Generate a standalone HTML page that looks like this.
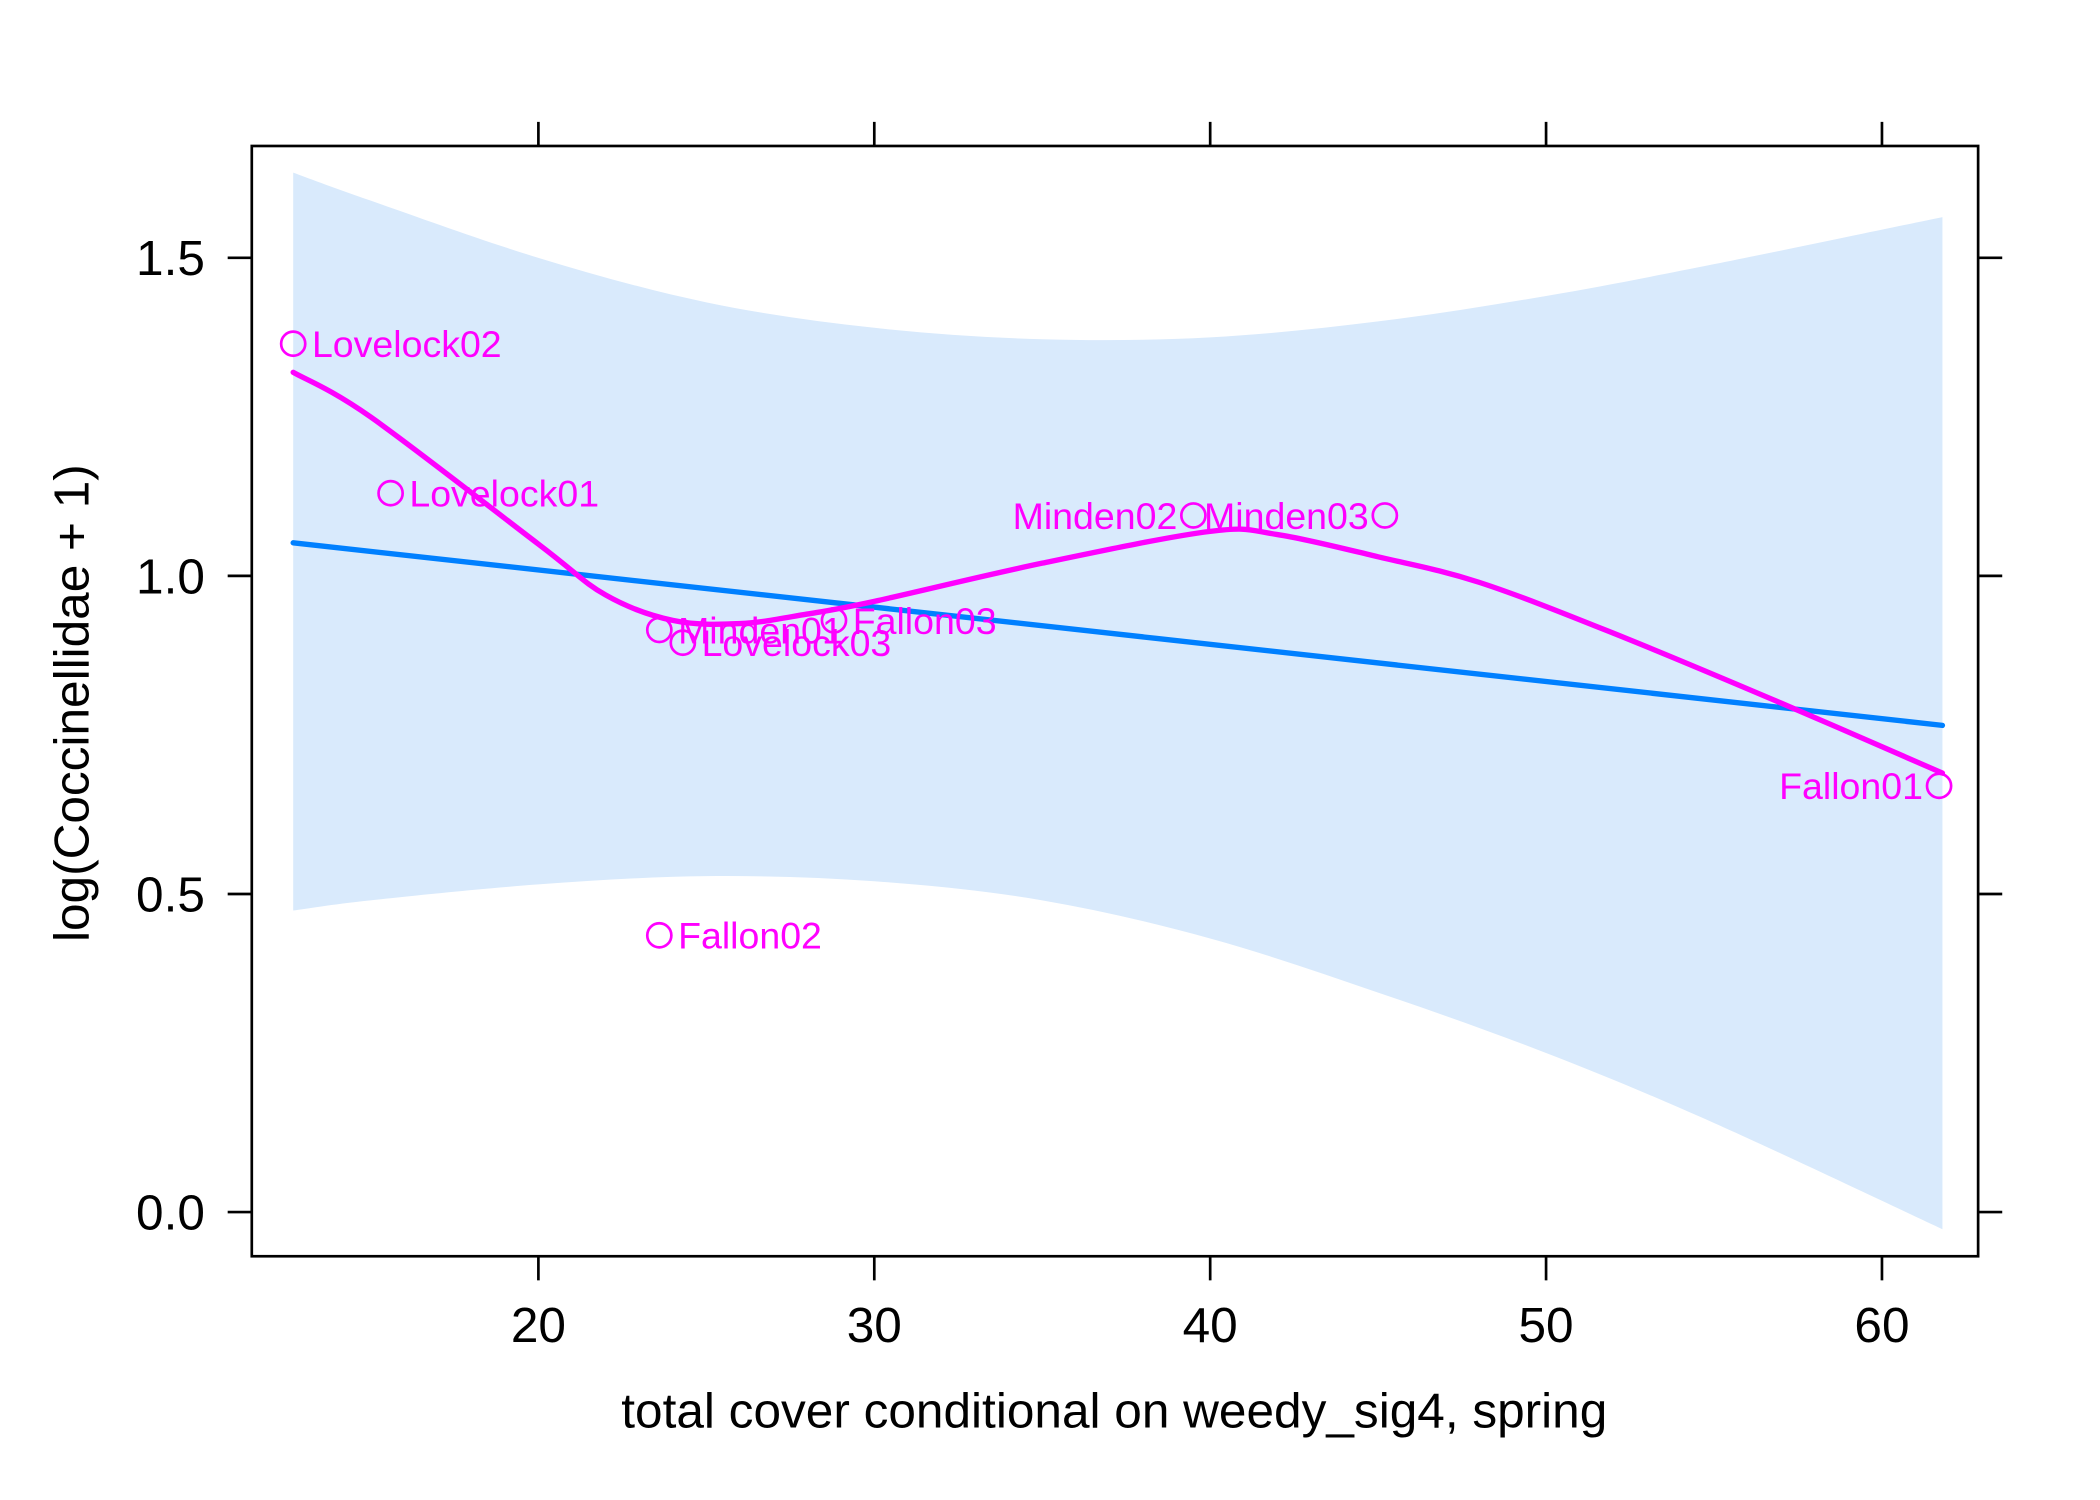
<!DOCTYPE html>
<html><head><meta charset="utf-8"><style>html,body{margin:0;padding:0;background:#fff}svg{display:block}text{font-family:"Liberation Sans",sans-serif}</style></head>
<body>
<svg id="chart" width="2100" height="1500" viewBox="0 0 1568 1120" preserveAspectRatio="none" xmlns="http://www.w3.org/2000/svg">
<g id="g"></g>
</svg>
<script>
const xTicks=[20,30,40,50,60];
const yTicks=[0.0,0.5,1.0,1.5];
const yTickLabels=["0.0","0.5","1.0","1.5"];
const bandX=[12.7,15,20,25,30,35,40,45,50,55,61.8];
const bandUpper=[1.634,1.59,1.50,1.43,1.39,1.372,1.375,1.40,1.44,1.49,1.564];
const bandLower=[0.474,0.49,0.515,0.528,0.52,0.49,0.43,0.345,0.25,0.14,-0.027];
const fitX=[12.7,61.8];
const fitY=[1.052,0.765];
const smoothX=[12.7,15,20,22,24,26,28,30,35,40,42,45,48,52,57,61.8];
const smoothY=[1.32,1.25,1.05,0.97,0.93,0.925,0.94,0.96,1.02,1.07,1.065,1.03,0.99,0.91,0.80,0.69];
const ptNames=["Lovelock02","Lovelock01","Minden01","Lovelock03","Fallon03","Minden02","Minden03","Fallon01","Fallon02"];
const ptX=[12.7,15.6,23.6,24.3,28.8,39.5,45.2,61.7,23.6];
const ptY=[1.365,1.13,0.915,0.895,0.93,1.095,1.095,0.67,0.435];
const ptLabelLeft=[false,false,false,false,false,true,true,true,false];

const X=v=>402+(v-20)*25.08;
const Y=v=>905-v*475;
const NS="http://www.w3.org/2000/svg";
const g=document.getElementById('g');
function mk(t,a){const e=document.createElementNS(NS,t);for(const k in a)e.setAttribute(k,a[k]);g.appendChild(e);return e;}
function spline(pts,move){
  let d=(move?"M":"L")+pts[0][0]+","+pts[0][1];
  for(let i=0;i<pts.length-1;i++){
    const p0=pts[Math.max(0,i-1)],p1=pts[i],p2=pts[i+1],p3=pts[Math.min(pts.length-1,i+2)];
    const c1=[p1[0]+(p2[0]-p0[0])/6,p1[1]+(p2[1]-p0[1])/6];
    const c2=[p2[0]-(p3[0]-p1[0])/6,p2[1]-(p3[1]-p1[1])/6];
    d+="C"+c1+" "+c2+" "+p2;
  }
  return d;
}

const up=bandX.map((x,i)=>[X(x),Y(bandUpper[i])]);
const lo=bandX.map((x,i)=>[X(x),Y(bandLower[i])]).reverse();
const band=mk('path',{d:spline(up,true)+spline(lo,false)+"Z",fill:"#d9eafc"});



const fit=mk('polyline',{points:fitX.map((x,i)=>X(x)+","+Y(fitY[i])).join(" "),fill:"none",stroke:"#0080ff","stroke-width":4,"stroke-linecap":"round"});



const sm=mk('path',{d:spline(smoothX.map((x,i)=>[X(x),Y(smoothY[i])]),true),fill:"none",stroke:"#ff00ff","stroke-width":4,"stroke-linejoin":"round","stroke-linecap":"round"});



ptNames.forEach((n,i)=>{
  const c=mk('circle',{cx:X(ptX[i]),cy:Y(ptY[i]),r:9,fill:"none",stroke:"#ff00ff","stroke-width":2});
  
  
  const left=ptLabelLeft[i];
  const t=mk('text',{x:X(ptX[i])+(left?-12:14),y:Y(ptY[i])+10,"font-size":28,fill:"#ff00ff","text-anchor":left?"end":"start"});
  t.textContent=n;
  
  
});

const box=mk('rect',{x:188,y:109,width:1289,height:829,fill:"none",stroke:"#000","stroke-width":2});



xTicks.forEach(v=>{
  const b=mk('line',{x1:X(v),x2:X(v),y1:938,y2:956,stroke:"#000","stroke-width":2});
  
  
  const tp=mk('line',{x1:X(v),x2:X(v),y1:91,y2:109,stroke:"#000","stroke-width":2});
  
  
  const t=mk('text',{x:X(v),y:1002,"font-size":37,"text-anchor":"middle",fill:"#000"});
  t.textContent=v;
  
  
});
yTicks.forEach((v,i)=>{
  const l=mk('line',{x1:170,x2:188,y1:Y(v),y2:Y(v),stroke:"#000","stroke-width":2});
  
  
  const r=mk('line',{x1:1477,x2:1495,y1:Y(v),y2:Y(v),stroke:"#000","stroke-width":2});
  
  
  const t=mk('text',{x:153,y:Y(v)+13,"font-size":37,"text-anchor":"end",fill:"#000"});
  t.textContent=yTickLabels[i];
  
  
});
const xt=mk('text',{x:832,y:1066,"font-size":37,"text-anchor":"middle",fill:"#000"});
xt.textContent="total cover conditional on weedy_sig4, spring";


const yt=mk('text',{x:0,y:0,"font-size":37,"text-anchor":"middle",fill:"#000",transform:"translate(66,525) rotate(-90)"});
yt.textContent="log(Coccinellidae + 1)";


</script>
</body></html>
